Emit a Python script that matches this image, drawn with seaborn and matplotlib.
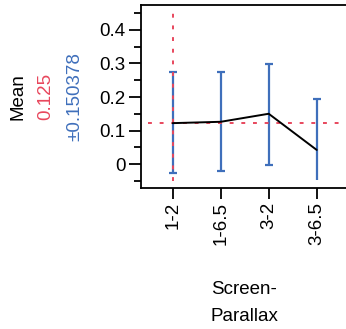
import matplotlib
matplotlib.use("Agg")
import matplotlib.pyplot as plt
import seaborn as sns
import numpy as np
import pandas as pd
from matplotlib.ticker import MultipleLocator

sns.set_style("ticks")
plt.rcParams['font.family'] = ['Liberation Sans', 'DejaVu Sans']
plt.rcParams['text.color'] = 'black'
plt.rcParams['xtick.color'] = 'black'
plt.rcParams['ytick.color'] = 'black'
plt.rcParams['xtick.labelcolor'] = 'black'
plt.rcParams['ytick.labelcolor'] = 'black'

categories = ["1-2", "1-6.5", "3-2", "3-6.5"]
means = [0.122, 0.126, 0.150, 0.042]
err_upper = [0.2755, 0.2755, 0.299, 0.194]
err_lower = [-0.026, -0.022, -0.002, -0.049]
lower_cap = [True, True, True, False]
grand_mean = 0.122
mean_label = "0.125"
sd_label = "±0.150378"

BLUE = "#3f6fbb"
RED = "#e8475d"
FS = 13.5

fig = plt.figure(figsize=(3.46, 3.29), dpi=100)
ax = fig.add_axes([141/346, 1-187.7/329, (348.4-141)/346, (187.7-5.3)/329])

df = pd.DataFrame({"cat": categories, "mean": means})
x = np.arange(len(categories))

# error bars
ax.vlines(x, err_lower, err_upper, color=BLUE, lw=1.6, zorder=2)
ax.plot(x, err_upper, ls="none", marker="_", ms=6, mew=1.6, color=BLUE, zorder=2)
lc = np.array(lower_cap)
ax.plot(x[lc], np.array(err_lower)[lc], ls="none", marker="_", ms=6, mew=1.6, color=BLUE, zorder=2)

# reference lines
ax.axhline(grand_mean, xmin=0.035, color=RED, lw=1.4, ls=(0, (2, 4)), zorder=3)
ax.vlines([0], -0.05, 0.45, color=RED, lw=1.4, ls=(0, (2, 4)), zorder=3)

sns.lineplot(x=x, y=df["mean"], ax=ax, color="black", lw=1.4, zorder=4)

ax.set_xlim(-0.66, 3.66)
ax.set_ylim(-0.0707, 0.4737)
ax.set_xticks(x)
ax.set_xticklabels(categories, rotation=90, fontsize=FS)
ax.yaxis.set_major_locator(MultipleLocator(0.1))
ax.yaxis.set_minor_locator(MultipleLocator(0.05))
ax.set_yticks([0, 0.1, 0.2, 0.3, 0.4])
ax.set_yticklabels(["0", "0.1", "0.2", "0.3", "0.4"], fontsize=FS)
ax.tick_params(axis="y", which="major", length=9, width=1.3, color="black", pad=2, labelcolor="black")
ax.tick_params(axis="y", which="minor", length=5, width=1.3, color="black")
ax.tick_params(axis="x", which="major", length=8, width=1.3, color="black", pad=2, labelcolor="black")
for s in ax.spines.values():
    s.set_linewidth(1.3)
    s.set_color("black")
ax.set_xlabel("")
ax.set_ylabel("")

fig.text(18.5/346, 1-96.5/329, "Mean", rotation=90, ha="center", va="center", fontsize=FS, color="black")
fig.text(45.5/346, 1-96.5/329, mean_label, rotation=90, ha="center", va="center", fontsize=FS, color=RED)
fig.text(74.5/346, 1-96.5/329, sd_label, rotation=90, ha="center", va="center", fontsize=FS, color=BLUE)

fig.text(244/346, 1-290/329, "Screen-", ha="center", va="center", fontsize=FS, color="black")
fig.text(244/346, 1-316.5/329, "Parallax", ha="center", va="center", fontsize=FS, color="black")

fig.savefig("out.png", dpi=100)
